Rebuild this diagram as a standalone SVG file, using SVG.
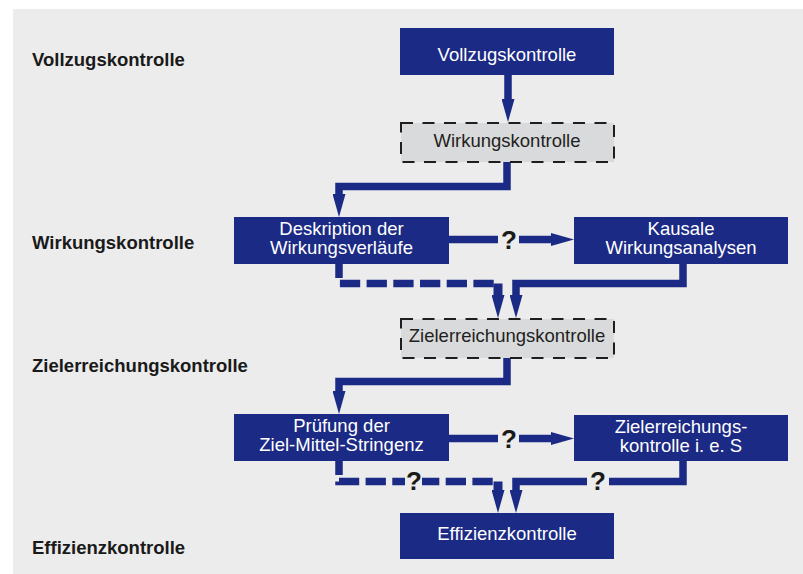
<svg xmlns="http://www.w3.org/2000/svg" width="803" height="574" viewBox="0 0 803 574">
  <defs>
    <marker id="ah" markerUnits="userSpaceOnUse" viewBox="0 0 23 13" markerWidth="23" markerHeight="13" refX="2" refY="6.5" orient="auto">
      <path d="M0,0 L23,6.5 L0,13 z" fill="#1b2a85"/>
    </marker>
    <style>
      .bg { fill: #ececec; }
      .solid { fill: #1b2a85; }
      .dash { fill: #d9dadc; stroke: #1e1e1e; stroke-width: 2; stroke-dasharray: 12 9.5; }
      .wt { font-family: "Liberation Sans", Arial, sans-serif; font-size: 18.5px; fill: #ffffff; text-anchor: middle; }
      .dt { font-family: "Liberation Sans", Arial, sans-serif; font-size: 18.5px; fill: #231f20; text-anchor: middle; }
      .lab { font-family: "Liberation Sans", Arial, sans-serif; font-size: 18.5px; font-weight: bold; fill: #1a1a1a; }
      .q { font-family: "Liberation Sans", Arial, sans-serif; font-size: 26px; font-weight: bold; fill: #1a1a1a; text-anchor: middle; }
      .ln { fill: none; stroke: #1b2a85; stroke-width: 7.5; stroke-linejoin: miter; }
      .arr { marker-end: url(#ah); }
      .dl { stroke-dasharray: 20.3 6.4; stroke-dashoffset: 6.3; }
      .qbg { fill: #ececec; }
    </style>
  </defs>

  <rect class="bg" x="13" y="9" width="790" height="565"/>

  <g id="labels">
    <text class="lab" x="32" y="66">Vollzugskontrolle</text>
    <text class="lab" x="32" y="248.5">Wirkungskontrolle</text>
    <text class="lab" x="32" y="372">Zielerreichungskontrolle</text>
    <text class="lab" x="32" y="554">Effizienzkontrolle</text>
  </g>

  <g id="connectors">
    <path class="ln arr" d="M508,75 V101"/>
    <path class="ln arr" d="M507,162 V186.5 H339 V196"/>
    <path class="ln" d="M449,239.5 H498"/>
    <path class="ln arr" d="M519,239.5 H553"/>
    <path class="ln dl" d="M339,264 V283.5 H496"/>
    <path class="ln arr" style="stroke-width:9" d="M498,283.5 V297"/>
    <path class="ln arr" d="M683,264 V283.5 H516 V297"/>
    <path class="ln arr" d="M507,358 V381.5 H339 V393"/>
    <path class="ln" d="M449,438.5 H498"/>
    <path class="ln arr" d="M519,438.5 H553"/>
    <path class="ln dl" d="M339,461 V481.5 H496"/>
    <path class="ln arr" style="stroke-width:9" d="M498,481.5 V492"/>
    <path class="ln arr" d="M683,461 V481.5 H516 V492"/>
    <rect class="qbg" x="405" y="470" width="17" height="22"/>
    <rect class="qbg" x="587" y="470" width="22" height="22"/>
    <text class="q" x="509" y="249">?</text>
    <text class="q" x="509" y="447.5">?</text>
    <text class="q" x="414" y="490">?</text>
    <text class="q" x="598" y="490">?</text>
  </g>

  <g id="n-vollzug">
    <rect class="solid" x="400" y="28" width="214" height="47"/>
    <text class="wt" x="507" y="60.5">Vollzugskontrolle</text>
  </g>
  <g id="n-wirkung">
    <rect class="dash" x="401" y="123" width="213" height="39"/>
    <text class="dt" x="507" y="147">Wirkungskontrolle</text>
  </g>
  <g id="n-deskription">
    <rect class="solid" x="234" y="217" width="215" height="47"/>
    <text class="wt" x="341.5" y="235">Deskription der</text>
    <text class="wt" x="341.5" y="254">Wirkungsverläufe</text>
  </g>
  <g id="n-kausal">
    <rect class="solid" x="574" y="217" width="214" height="47"/>
    <text class="wt" x="681" y="235">Kausale</text>
    <text class="wt" x="681" y="254">Wirkungsanalysen</text>
  </g>
  <g id="n-zielerr">
    <rect class="dash" x="401" y="319" width="213" height="39"/>
    <text class="dt" x="507" y="342">Zielerreichungskontrolle</text>
  </g>
  <g id="n-pruefung">
    <rect class="solid" x="234" y="414" width="215" height="47"/>
    <text class="wt" x="341.5" y="432">Prüfung der</text>
    <text class="wt" x="341.5" y="451">Ziel-Mittel-Stringenz</text>
  </g>
  <g id="n-zielerr-ies">
    <rect class="solid" x="574" y="415" width="214" height="46"/>
    <text class="wt" x="681" y="433">Zielerreichungs-</text>
    <text class="wt" x="681" y="452">kontrolle i. e. S</text>
  </g>
  <g id="n-effizienz">
    <rect class="solid" x="400" y="513" width="214" height="46"/>
    <text class="wt" x="507" y="540">Effizienzkontrolle</text>
  </g>
</svg>
